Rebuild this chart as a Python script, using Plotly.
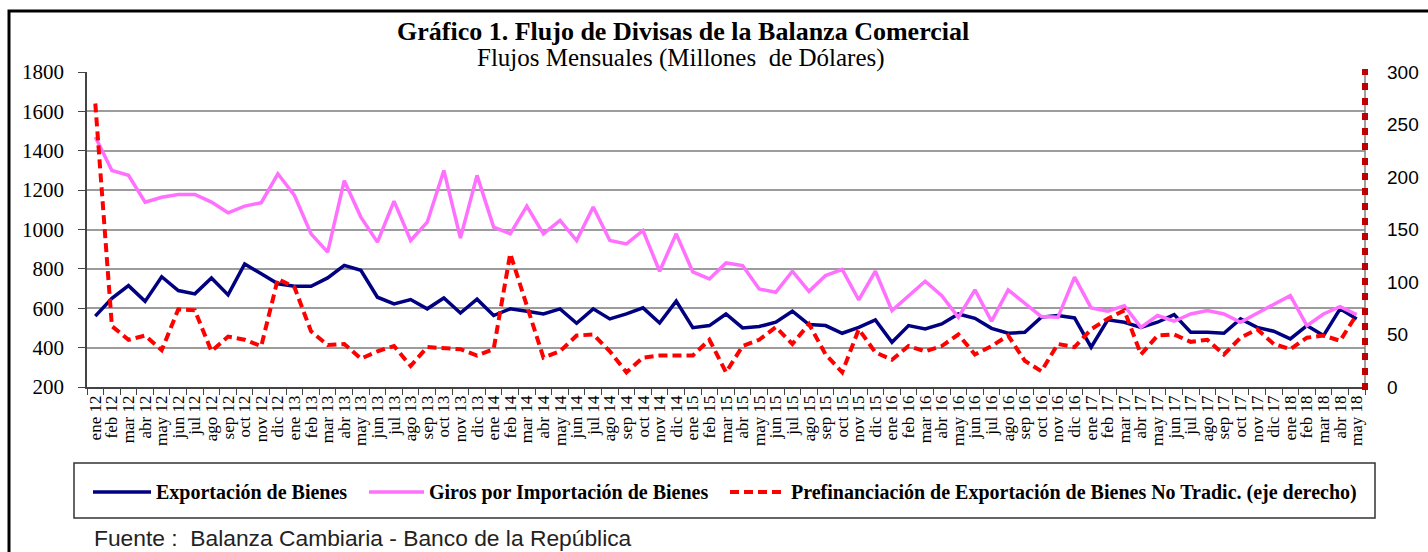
import plotly.graph_objects as go

# ---- data -----------------------------------------------------------------
month_names = ["ene", "feb", "mar", "abr", "may", "jun",
               "jul", "ago", "sep", "oct", "nov", "dic"]
years = ["12", "13", "14", "15", "16", "17", "18"]
last_year_months = 5  # the series ends in may 18

periods = [f"{m} {y}" for y in years for m in month_names]
periods = periods[:len(periods) - (12 - last_year_months)]

# Exportación de Bienes (millones de USD, eje izquierdo)
exportacion = [
    560, 650, 715, 635, 760, 690, 673, 754, 668, 825, 775, 724,
    712, 712, 754, 818, 793, 656, 622, 644, 597, 652, 576, 646,
    563, 597, 585, 571, 597, 524, 597, 546, 571, 602, 525, 636,
    501, 512, 571, 500, 507, 529, 585, 517, 512, 473, 503, 541,
    427, 512, 495, 520, 571, 549, 498, 473, 478, 555, 563, 551,
    402, 541, 529, 503, 529, 568, 478, 478, 473, 546, 503, 483,
    444, 512, 461, 597, 546,
]

# Giros por Importación de Bienes (millones de USD, eje izquierdo)
giros_importacion = [
    1470, 1300, 1275, 1139, 1164, 1178, 1178, 1139, 1085, 1119, 1136, 1283,
    1173, 978, 885, 1248, 1063, 936, 1144, 944, 1037, 1300, 956, 1275,
    1012, 978, 1119, 978, 1046, 944, 1114, 944, 927, 995, 788, 978,
    785, 749, 830, 817, 698, 681, 788, 686, 766, 797, 642, 788,
    588, 664, 737, 664, 554, 693, 534, 693, 626, 558, 554, 758,
    602, 585, 613, 503, 563, 534, 571, 588, 571, 529, 575, 622,
    664, 512, 571, 608, 568,
]

# Prefinanciación de Exportación de Bienes No Tradicionales (eje derecho)
prefinanciacion = [
    270, 58, 45, 49, 35, 74, 73, 34, 48, 45, 39, 103,
    95, 53, 40, 41, 27, 34, 39, 20, 38, 37, 36, 30,
    36, 127, 79, 28, 34, 49, 50, 34, 14, 28, 30, 30,
    30, 45, 14, 39, 45, 57, 41, 60, 31, 14, 55, 33,
    26, 39, 34, 39, 50, 31, 39, 49, 25, 15, 41, 38,
    55, 65, 73, 31, 49, 50, 43, 45, 31, 47, 55, 41,
    36, 47, 49, 44, 69,
]

# ---- page geometry (pixels) -------------------------------------------------
W, H = 1428, 552
PLOT_L, PLOT_R, PLOT_T, PLOT_B = 87, 1365, 72, 387


def px(x):
    return x / W


def py(y):
    return 1 - y / H


SERIF = "Liberation Serif"
SANS = "Liberation Sans"

BLUE = "#000080"
PINK = "#FF70FF"
RED = "#FF0000"
DARK_RED = "#C00000"

fig = go.Figure()

fig.add_trace(go.Scatter(
    x=periods, y=exportacion, mode="lines", name="Exportación de Bienes",
    line=dict(color=BLUE, width=3.5), showlegend=False,
))
fig.add_trace(go.Scatter(
    x=periods, y=giros_importacion, mode="lines",
    name="Giros por Importación de Bienes",
    line=dict(color=PINK, width=3.5), showlegend=False,
))
fig.add_trace(go.Scatter(
    x=periods, y=prefinanciacion, mode="lines", yaxis="y2",
    name="Prefinanciación de Exportación de Bienes No Tradic. (eje derecho)",
    line=dict(color=RED, width=4, dash="9px,5px"), showlegend=False,
))

x_domain = [px(PLOT_L), px(PLOT_R)]
y_domain = [py(PLOT_B), py(PLOT_T)]

fig.update_layout(
    width=W, height=H, autosize=False,
    margin=dict(l=0, r=0, t=0, b=0),
    paper_bgcolor="white", plot_bgcolor="white",
    xaxis=dict(
        domain=x_domain, type="category", range=[-0.5, len(periods) - 0.5],
        tickmode="array", tickvals=periods, ticktext=periods,
        tickson="boundaries", ticks="outside", ticklen=6, tickwidth=1,
        tickcolor="#444444", showline=True, linecolor="#444444", linewidth=1.5,
        showgrid=False, tickangle=-90, automargin=False,
        tickfont=dict(family=SERIF, size=17, color="black"),
    ),
    yaxis=dict(
        domain=y_domain, range=[200, 1800], dtick=200,
        showgrid=True, gridcolor="#9C9C9C", gridwidth=1.5,
        showline=True, linecolor="#444444", linewidth=1.5,
        ticks="outside", ticklen=7, tickcolor="#444444",
        ticklabelstandoff=10, automargin=False, zeroline=False,
        tickfont=dict(family=SERIF, size=21, color="black"),
    ),
    yaxis2=dict(
        domain=y_domain, range=[0, 300], dtick=50, overlaying="y",
        side="right", anchor="x", showgrid=False, showline=False,
        zeroline=False, ticks="", ticklabelstandoff=21, automargin=False,
        tickfont=dict(family=SANS, size=19, color="black"),
    ),
)

shapes = [
    # outer frame
    dict(type="rect", xref="paper", yref="paper",
         x0=px(9), x1=px(1440), y0=py(565), y1=py(11),
         line=dict(color="black", width=3), layer="above"),
    # right axis: grey line with dark red square dashes
    dict(type="line", xref="paper", yref="paper",
         x0=px(PLOT_R), x1=px(PLOT_R), y0=py(PLOT_B), y1=py(PLOT_T),
         line=dict(color="#808080", width=1.5), layer="above"),
    dict(type="line", xref="paper", yref="paper",
         x0=px(PLOT_R), x1=px(PLOT_R), y0=py(PLOT_B + 3), y1=py(PLOT_T - 3),
         line=dict(color=DARK_RED, width=6, dash="7px,8px"), layer="above"),
    # legend frame
    dict(type="rect", xref="paper", yref="paper",
         x0=px(74), x1=px(1375), y0=py(518), y1=py(463),
         line=dict(color="#333333", width=1.5)),
    # legend keys
    dict(type="line", xref="paper", yref="paper",
         x0=px(93), x1=px(151), y0=py(492), y1=py(492),
         line=dict(color=BLUE, width=3.5)),
    dict(type="line", xref="paper", yref="paper",
         x0=px(369), x1=px(424), y0=py(492), y1=py(492),
         line=dict(color=PINK, width=3.5)),
    dict(type="line", xref="paper", yref="paper",
         x0=px(730), x1=px(786), y0=py(492), y1=py(492),
         line=dict(color=RED, width=4, dash="9px,5px")),
]

annotations = [
    dict(text="<b>Gráfico 1. Flujo de Divisas de la Balanza Comercial</b>",
         x=px(683), y=py(31), xref="paper", yref="paper",
         xanchor="center", yanchor="middle", showarrow=False,
         font=dict(family=SERIF, size=26, color="black")),
    dict(text="Flujos Mensuales (Millones\u00a0 de Dólares)",
         x=px(681), y=py(58), xref="paper", yref="paper",
         xanchor="center", yanchor="middle", showarrow=False,
         font=dict(family=SERIF, size=25, color="black")),
    dict(text="<b>Exportación de Bienes</b>",
         x=px(154), y=py(492), xref="paper", yref="paper",
         xanchor="left", yanchor="middle", showarrow=False,
         font=dict(family=SERIF, size=20, color="black")),
    dict(text="<b>Giros por Importación de Bienes</b>",
         x=px(427), y=py(492), xref="paper", yref="paper",
         xanchor="left", yanchor="middle", showarrow=False,
         font=dict(family=SERIF, size=20, color="black")),
    dict(text="<b>Prefinanciación de Exportación de Bienes No Tradic. (eje derecho)</b>",
         x=px(789), y=py(492), xref="paper", yref="paper",
         xanchor="left", yanchor="middle", showarrow=False,
         font=dict(family=SERIF, size=20, color="black")),
    dict(text="Fuente\u00a0:\u00a0 Balanza Cambiaria - Banco de la República",
         x=px(92), y=py(538), xref="paper", yref="paper",
         xanchor="left", yanchor="middle", showarrow=False,
         font=dict(family=SANS, size=22.8, color="#222222")),
]

fig.update_layout(shapes=shapes, annotations=annotations)

fig.write_html("out.html")
